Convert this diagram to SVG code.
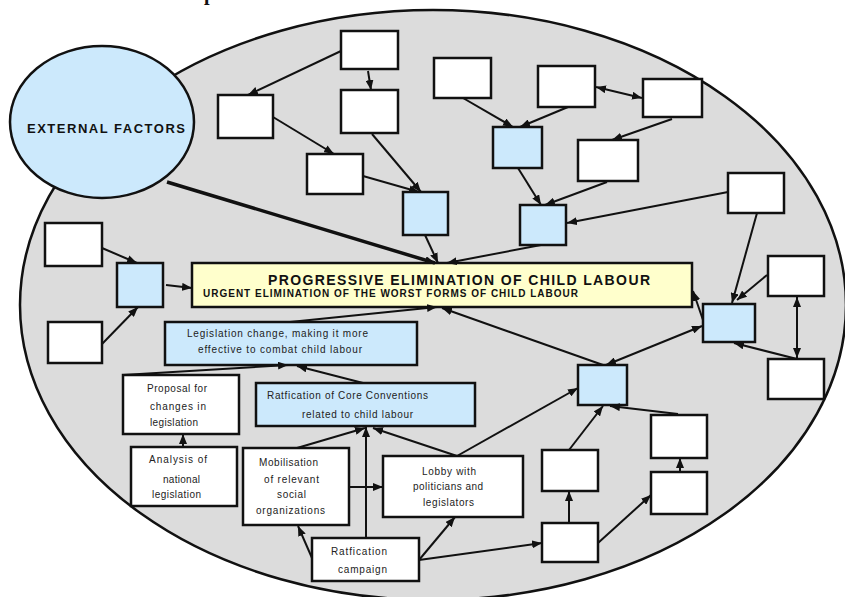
<svg xmlns="http://www.w3.org/2000/svg" width="845" height="597" viewBox="0 0 845 597">
  <defs>
    <marker id="arrow" viewBox="0 0 10 8" refX="10" refY="4" markerWidth="10" markerHeight="8" markerUnits="userSpaceOnUse" orient="auto-start-reverse">
      <path d="M0,0 L10,4 L0,8 z" fill="#111"/>
    </marker>
    <style>
      .box { stroke: #111; stroke-width: 2.5; }
      .white { fill: #ffffff; }
      .blue { fill: #cce9fc; }
      .yellow { fill: #ffffcc; }
      .conn line { stroke: #111; stroke-width: 2; marker-end: url(#arrow); }
      .conn line.both { marker-start: url(#arrow); }
      .conn line.thick { stroke-width: 3.5; }
      .lbl { font-family: "Liberation Sans", Arial, sans-serif; font-size: 10px; fill: #222; }
      .bold { font-family: "Liberation Sans", Arial, sans-serif; font-weight: bold; fill: #111; }
    </style>
  </defs>

  <rect width="845" height="597" fill="#ffffff"/>

  <!-- partially visible heading -->
  <text x="204" y="0" font-family="Liberation Serif, serif" font-weight="bold" font-size="20" fill="#111">p</text>

  <!-- large grey field -->
  <ellipse cx="433" cy="305" rx="413" ry="295" fill="#dcdcdc" stroke="#111" stroke-width="2.5"/>

  <!-- external factors -->
  <g id="external-factors">
    <ellipse cx="102" cy="122" rx="92" ry="76" class="box blue"/>
    <text x="106" y="133" class="bold" font-size="13" text-anchor="middle" textLength="158" lengthAdjust="spacing">EXTERNAL FACTORS</text>
  </g>

  <!-- central goal -->
  <g id="goal">
    <rect x="192" y="263" width="500" height="44" class="box yellow"/>
    <text x="268" y="285" class="bold" font-size="14" textLength="382" lengthAdjust="spacing">PROGRESSIVE ELIMINATION OF CHILD LABOUR</text>
    <text x="203" y="297" class="bold" font-size="10" textLength="375" lengthAdjust="spacing">URGENT ELIMINATION OF THE WORST FORMS OF CHILD LABOUR</text>
  </g>

  <!-- labelled nodes -->
  <g id="legislation-change">
    <rect x="165" y="322" width="252" height="43" class="box blue"/>
    <text x="187" y="337" class="lbl" textLength="181" lengthAdjust="spacing">Legislation change, making it more</text>
    <text x="198" y="353" class="lbl" textLength="164" lengthAdjust="spacing">effective to combat child labour</text>
  </g>
  <g id="ratification-conventions">
    <rect x="256" y="383" width="219" height="43" class="box blue"/>
    <text x="267" y="399" class="lbl" textLength="161" lengthAdjust="spacing">Ratfication of Core Conventions</text>
    <text x="302" y="418" class="lbl" textLength="111" lengthAdjust="spacing">related to child labour</text>
  </g>
  <g id="proposal">
    <rect x="123" y="375" width="116" height="59" class="box white"/>
    <text x="147" y="392" class="lbl" textLength="60" lengthAdjust="spacing">Proposal for</text>
    <text x="150" y="410" class="lbl" textLength="56" lengthAdjust="spacing">changes in</text>
    <text x="150" y="426" class="lbl" textLength="48" lengthAdjust="spacing">legislation</text>
  </g>
  <g id="analysis">
    <rect x="131" y="447" width="106" height="59" class="box white"/>
    <text x="149" y="463" class="lbl" textLength="58" lengthAdjust="spacing">Analysis of</text>
    <text x="163" y="483" class="lbl" textLength="37" lengthAdjust="spacing">national</text>
    <text x="152" y="498" class="lbl" textLength="49" lengthAdjust="spacing">legislation</text>
  </g>
  <g id="mobilisation">
    <rect x="243" y="448" width="106" height="77" class="box white"/>
    <text x="259" y="466" class="lbl" textLength="59" lengthAdjust="spacing">Mobilisation</text>
    <text x="264" y="483" class="lbl" textLength="55" lengthAdjust="spacing">of relevant</text>
    <text x="277" y="498" class="lbl" textLength="29" lengthAdjust="spacing">social</text>
    <text x="256" y="514" class="lbl" textLength="69" lengthAdjust="spacing">organizations</text>
  </g>
  <g id="campaign">
    <rect x="312" y="538" width="107" height="43" class="box white"/>
    <text x="331" y="555" class="lbl" textLength="56" lengthAdjust="spacing">Ratfication</text>
    <text x="338" y="573" class="lbl" textLength="49" lengthAdjust="spacing">campaign</text>
  </g>
  <g id="lobby">
    <rect x="383" y="456" width="140" height="61" class="box white"/>
    <text x="422" y="475" class="lbl" textLength="54" lengthAdjust="spacing">Lobby with</text>
    <text x="413" y="490" class="lbl" textLength="70" lengthAdjust="spacing">politicians and</text>
    <text x="423" y="506" class="lbl" textLength="51" lengthAdjust="spacing">legislators</text>
  </g>

  <!-- unlabelled nodes -->
  <g id="node-a"><rect x="218" y="95" width="55" height="43" class="box white"/></g>
  <g id="node-b"><rect x="341" y="31" width="57" height="38" class="box white"/></g>
  <g id="node-c"><rect x="341" y="90" width="57" height="43" class="box white"/></g>
  <g id="node-d"><rect x="307" y="154" width="56" height="40" class="box white"/></g>
  <g id="node-e"><rect x="403" y="192" width="45" height="43" class="box blue"/></g>
  <g id="node-f"><rect x="520" y="205" width="46" height="40" class="box blue"/></g>
  <g id="node-p"><rect x="493" y="127" width="49" height="41" class="box blue"/></g>
  <g id="node-q"><rect x="434" y="58" width="57" height="40" class="box white"/></g>
  <g id="node-r"><rect x="538" y="66" width="57" height="41" class="box white"/></g>
  <g id="node-s"><rect x="643" y="79" width="59" height="38" class="box white"/></g>
  <g id="node-t"><rect x="578" y="140" width="60" height="41" class="box white"/></g>
  <g id="node-o"><rect x="728" y="173" width="56" height="40" class="box white"/></g>
  <g id="node-l"><rect x="703" y="304" width="52" height="38" class="box blue"/></g>
  <g id="node-m"><rect x="768" y="256" width="56" height="40" class="box white"/></g>
  <g id="node-n"><rect x="768" y="359" width="56" height="40" class="box white"/></g>
  <g id="node-g"><rect x="578" y="365" width="49" height="40" class="box blue"/></g>
  <g id="node-h"><rect x="542" y="450" width="56" height="41" class="box white"/></g>
  <g id="node-i"><rect x="542" y="523" width="56" height="39" class="box white"/></g>
  <g id="node-j"><rect x="651" y="415" width="56" height="43" class="box white"/></g>
  <g id="node-k"><rect x="651" y="472" width="56" height="42" class="box white"/></g>
  <g id="node-u"><rect x="45" y="223" width="57" height="43" class="box white"/></g>
  <g id="node-v"><rect x="48" y="322" width="54" height="41" class="box white"/></g>
  <g id="node-w"><rect x="117" y="263" width="46" height="44" class="box blue"/></g>

  <!-- connectors -->
  <g id="connectors" class="conn">
    <line x1="341" y1="51" x2="248" y2="95"/>
    <line x1="368" y1="71" x2="371" y2="90"/>
    <line x1="273" y1="117" x2="334" y2="154"/>
    <line x1="372" y1="134" x2="421" y2="192"/>
    <line x1="363" y1="176" x2="419" y2="192"/>
    <line x1="425" y1="235" x2="438" y2="263"/>
    <line class="thick" x1="167" y1="182" x2="435" y2="263"/>
    <line x1="541" y1="245" x2="447" y2="263"/>
    <line x1="463" y1="98" x2="513" y2="127"/>
    <line x1="568" y1="107" x2="520" y2="127"/>
    <line class="both" x1="596" y1="87" x2="642" y2="98"/>
    <line x1="672" y1="119" x2="612" y2="140"/>
    <line x1="607" y1="182" x2="545" y2="205"/>
    <line x1="518" y1="168" x2="541" y2="205"/>
    <line x1="728" y1="192" x2="567" y2="223"/>
    <line x1="757" y1="213" x2="732" y2="303"/>
    <line x1="767" y1="275" x2="737" y2="300"/>
    <line x1="797" y1="359" x2="734" y2="343"/>
    <line class="both" x1="797" y1="297" x2="797" y2="358"/>
    <line x1="703" y1="320" x2="693" y2="291"/>
    <line class="both" x1="606" y1="365" x2="702" y2="326"/>
    <line x1="603" y1="365" x2="442" y2="308"/>
    <line x1="290" y1="322" x2="437" y2="307"/>
    <line x1="123" y1="375" x2="288" y2="365"/>
    <line x1="363" y1="383" x2="297" y2="366"/>
    <line x1="183" y1="447" x2="183" y2="434"/>
    <line x1="297" y1="448" x2="365" y2="428"/>
    <line x1="366" y1="538" x2="366" y2="427"/>
    <line x1="457" y1="456" x2="373" y2="428"/>
    <line x1="312" y1="558" x2="298" y2="526"/>
    <line x1="349" y1="487" x2="383" y2="487"/>
    <line x1="419" y1="560" x2="455" y2="517"/>
    <line x1="419" y1="560" x2="542" y2="543"/>
    <line x1="457" y1="456" x2="578" y2="388"/>
    <line x1="569" y1="523" x2="569" y2="491"/>
    <line x1="598" y1="543" x2="651" y2="495"/>
    <line x1="680" y1="472" x2="680" y2="458"/>
    <line x1="569" y1="450" x2="603" y2="406"/>
    <line x1="678" y1="414" x2="610" y2="406"/>
    <line x1="102" y1="248" x2="137" y2="263"/>
    <line x1="102" y1="344" x2="138" y2="307"/>
    <line x1="166" y1="285" x2="192" y2="288"/>
  </g>
</svg>
